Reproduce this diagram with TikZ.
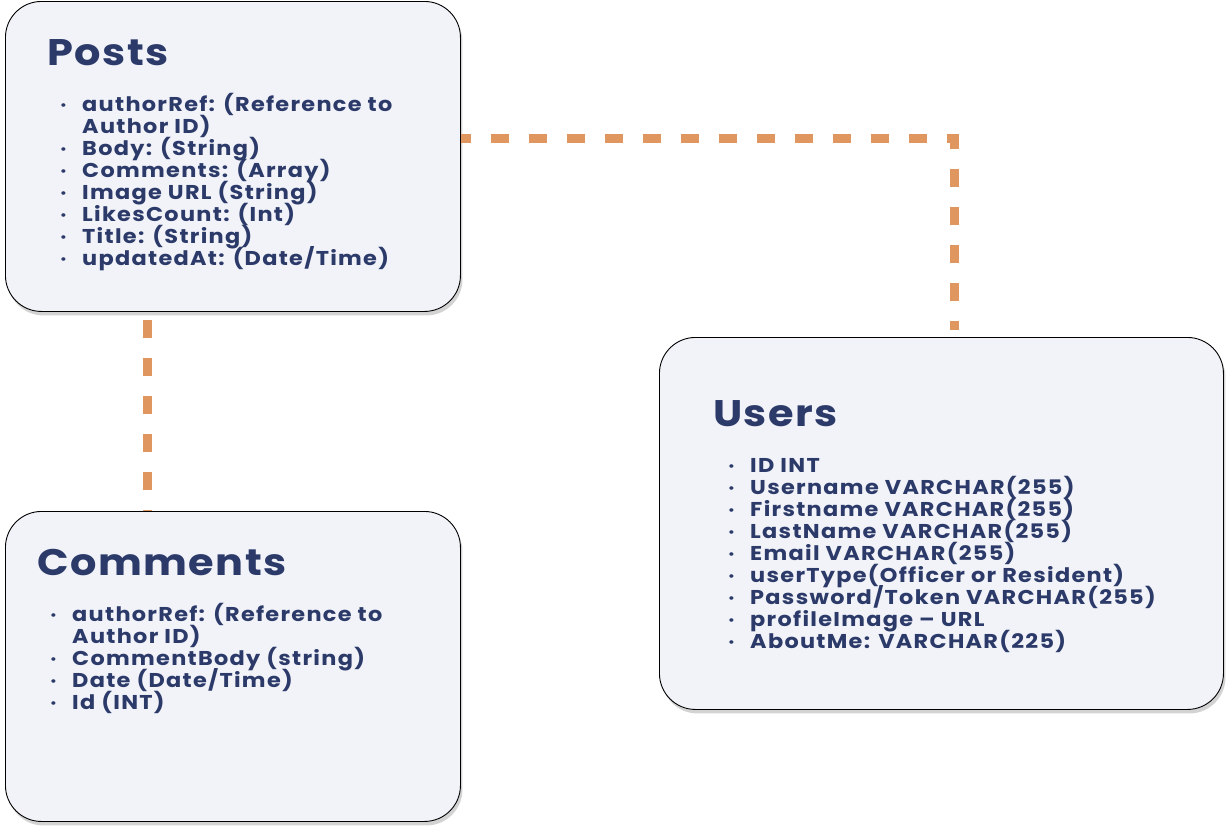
\documentclass[tikz,border=0pt]{standalone}
\usepackage{fontspec}
\setmainfont{Poppins}[BoldFont=* Bold, FakeStretch=1.12]
\newfontfamily\titlefont{Poppins}[BoldFont=* Bold, FakeStretch=1.12, LetterSpace=4]
\newfontfamily\fieldfont{Poppins}[BoldFont=* Bold, FakeStretch=1.12, LetterSpace=6.5]
\usetikzlibrary{shadows}
\definecolor{boxfill}{HTML}{F1F3F9}
\definecolor{ink}{HTML}{2C3A69}
\definecolor{conn}{HTML}{E0965F}
\newcommand{\fieldstyle}{\fieldfont\bfseries\fontsize{20}{22}\selectfont\lineskiplimit=-20pt\relax}
\newcommand{\fieldlist}[1]{\parbox[t]{480pt}{\raggedright\fieldstyle #1}}
\tikzset{
  box/.style={draw=black, line width=0.9pt, fill=boxfill, rounded corners=36pt, anchor=north west, inner sep=0pt,
    drop shadow={opacity=0.35, shadow xshift=2pt, shadow yshift=-4pt}},
  title/.style={anchor=base west, inner sep=0pt, text=ink, font=\titlefont\bfseries\fontsize{37}{42}\selectfont},
  fields/.style={anchor=base west, inner sep=0pt, text=ink, font=\fieldstyle},
  link/.style={draw=conn, line width=9.5pt, dash pattern=on 18pt off 20pt}
}
\newcommand{\bul}{\makebox[22pt][l]{\raisebox{2pt}{\fontsize{12}{12}\selectfont •}}}
\newcommand{\nobul}{\hspace*{22pt}}
\begin{document}
\begin{tikzpicture}[x=1pt, y=-1pt]
\useasboundingbox (0,0) rectangle (1228,830);
\node[box, minimum width=455pt, minimum height=310pt] (Posts) at (5,1) {};
\node[box, minimum width=455pt, minimum height=310pt] (Comments) at (5,511) {};
\node[box, minimum width=564pt, minimum height=372pt] (Users) at (659,337) {};
\draw[link, dash phase=-6pt] ([xshift=-85.5pt, yshift=-2pt]Posts.south) -- ([xshift=-85.5pt]Comments.north);
\draw[link, dash phase=8pt] ([yshift=18pt]Posts.east) -| ([xshift=13pt, yshift=7pt]Users.north);

\node[title] (PostsT) at (47,65) {Posts};
\node[fields] (PostsF) at (60,111) {\fieldlist{\bul authorRef: (Reference to\\
\nobul Author ID)\\
\bul Body: (String)\\
\bul Comments: (Array)\\
\bul Image URL (String)\\
\bul LikesCount: (Int)\\
\bul Title: (String)\\
\bul updatedAt: (Date/Time)}};

\node[title] (CommentsT) at (37,575) {Comments};
\node[fields] (CommentsF) at (50,621) {\fieldlist{\bul authorRef: (Reference to\\
\nobul Author ID)\\
\bul CommentBody (string)\\
\bul Date (Date/Time)\\
\bul Id (INT)}};

\node[title] (UsersT) at (713,426) {Users};
\node[fields] (UsersF) at (728,472) {\fieldlist{\bul ID INT\\
\bul Username VARCHAR(255)\\
\bul Firstname VARCHAR(255)\\
\bul LastName VARCHAR(255)\\
\bul Email VARCHAR(255)\\
\bul userType(Officer or Resident)\\
\bul Password/Token VARCHAR(255)\\
\bul profileImage – URL\\
\bul AboutMe: VARCHAR(225)}};
\end{tikzpicture}
\end{document}
